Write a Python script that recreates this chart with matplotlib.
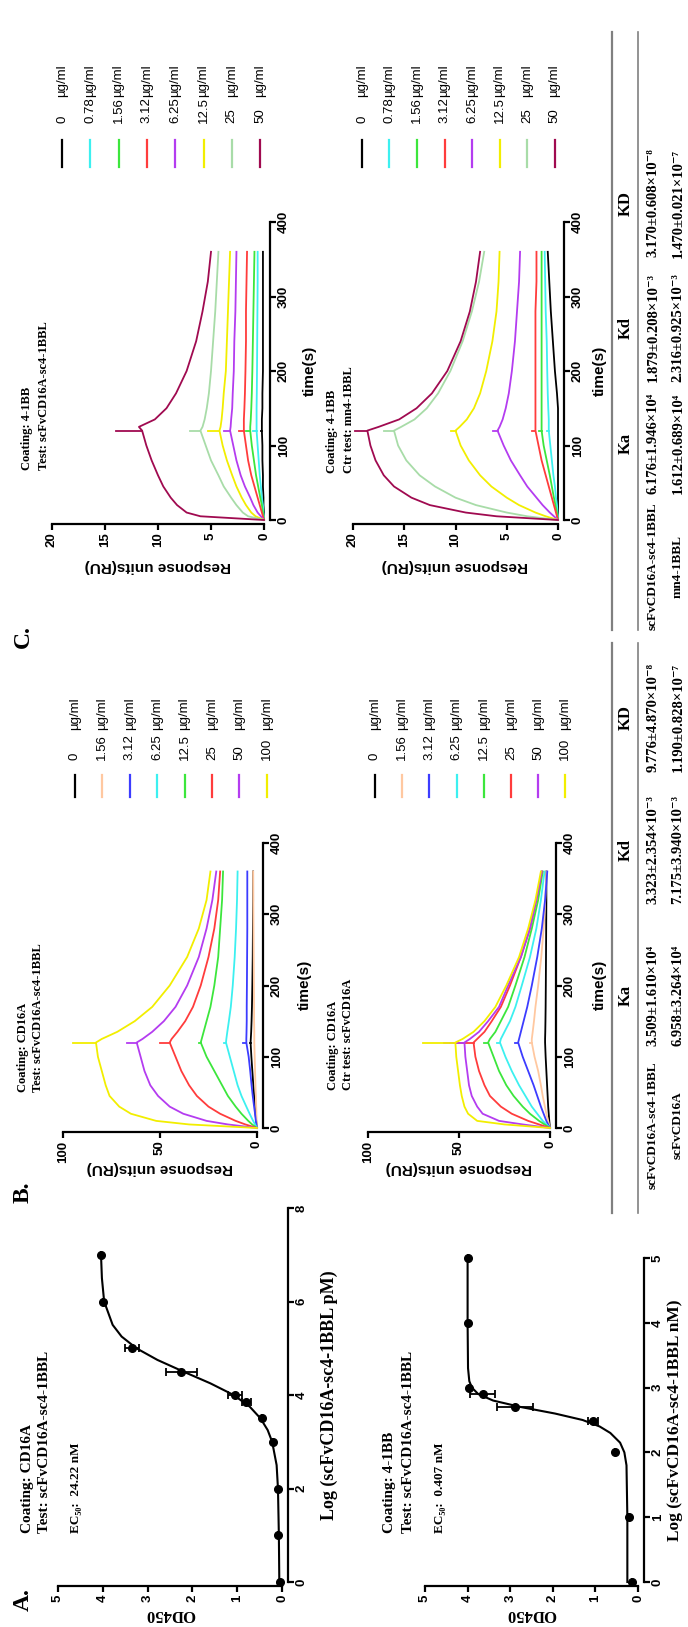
import matplotlib
matplotlib.use("Agg")
import matplotlib.pyplot as plt
from matplotlib.lines import Line2D

# ---------------- data ----------------
# panel A: ELISA binding curves (x = log conc, y = OD450)
A_TOP_LOG = [0, 1, 2, 3, 3.5, 3.85, 4, 4.5, 5, 6, 7]
A_TOP_OD = [0.05, 0.08, 0.08, 0.2, 0.45, 0.8, 1.05, 2.25, 3.35, 4.0, 4.05]
A_TOP_ERR = [0, 0, 0, 0, 0, 0.1, 0.15, 0.35, 0.15, 0, 0]
A_TOP_FIT_LOG = [0, 1, 2, 2.5, 3, 3.25, 3.5, 3.75, 4, 4.25, 4.5, 4.75, 5, 5.25, 5.5, 6, 6.5, 7]
A_TOP_FIT_OD = [0.06, 0.07, 0.09, 0.12, 0.22, 0.32, 0.48, 0.72, 1.08, 1.6, 2.2, 2.78, 3.25,
                3.58, 3.78, 3.97, 4.02, 4.04]

A_BOT_LOG = [0, 1, 2, 2.48, 2.7, 2.9, 3, 4, 5]
A_BOT_OD = [0.15, 0.2, 0.55, 1.05, 2.88, 3.65, 3.97, 4.0, 4.0]
A_BOT_ERR = [0, 0, 0, 0.12, 0.42, 0.3, 0, 0, 0]
A_BOT_FIT_LOG = [0, 1, 1.8, 2.0, 2.15, 2.3, 2.4, 2.5, 2.6, 2.7, 2.8, 2.9, 3.0, 3.1, 3.3, 4, 5]
A_BOT_FIT_OD = [0.25, 0.25, 0.27, 0.32, 0.42, 0.65, 0.9, 1.3, 1.95, 2.75, 3.4, 3.75, 3.9,
                3.96, 3.99, 4.0, 4.0]

# SPR sensorgrams, time in s
T = [0, 5, 10, 20, 30, 45, 60, 80, 100, 120, 125, 135, 150, 170, 200, 240, 280, 320, 360]

B_LABELS = ["0", "1.56", "3.12", "6.25", "12.5", "25", "50", "100"]
B_COLORS = ["#000000", "#FFC8A0", "#3C3CFF", "#3CF0F0", "#3CE63C", "#FF3C3C", "#B43CF0", "#F2EE00"]
B_TOP = [
    [0, 0.2, 0.4, 0.8, 1.1, 1.5, 1.9, 2.4, 2.9, 3.3, 3.2, 3.0, 2.8, 2.6, 2.4, 2.2, 2.1, 2.0, 2.0],
    [0, 0.1, 0.2, 0.3, 0.4, 0.6, 0.8, 1.0, 1.2, 1.4, 1.4, 1.4, 1.5, 1.5, 1.6, 1.7, 1.8, 1.9, 2.0],
    [0, 0.3, 0.6, 1.0, 1.5, 2.2, 2.8, 3.5, 4.3, 5.5, 5.5, 5.4, 5.3, 5.3, 5.2, 5.1, 5.0, 5.0, 5.0],
    [0, 1, 2, 3.8, 5.5, 8, 10, 12, 14, 16, 15.8, 15.3, 14.5, 13.5, 12.5, 11.5, 10.8, 10.3, 10],
    [0, 2.5, 4.5, 8, 11, 15, 18, 22, 26, 29, 28.5, 27.5, 26, 24, 22, 20, 19, 18, 17.5],
    [0, 6, 11, 19, 25, 31, 35, 39, 42, 45, 44, 41, 37, 33, 29, 25, 22, 20, 19],
    [0, 15, 26, 38, 45, 51, 55, 58, 60, 62, 59, 54, 48, 42, 36, 30, 26, 23, 21],
    [0, 35, 52, 65, 71, 76, 78, 80, 82, 83, 80, 72, 63, 54, 45, 36, 30, 26, 24],
]
B_TOP_SPIKE = [3.5, 1.5, 7, 17, 30, 50, 67, 95]
B_BOT = [
    [0, 0.2, 0.4, 0.7, 1, 1.3, 1.6, 2, 2.4, 2.7, 2.7, 2.6, 2.5, 2.4, 2.3, 2.2, 2.1, 2, 2],
    [0, 0.5, 1, 2, 2.8, 4, 5, 6.5, 8.5, 10, 10, 9.5, 8.8, 8, 6.5, 4.8, 3.5, 2.6, 2],
    [0, 1, 2, 3.5, 5, 7, 9, 12, 15, 17.5, 17, 16, 14.5, 12.5, 10, 7, 4.5, 2.7, 1.5],
    [0, 2, 4, 7, 10, 13.5, 17, 21, 24.5, 27.5, 27, 25, 22, 19, 15.5, 11, 7.5, 5, 3],
    [0, 3, 6, 11, 15, 20, 24, 28, 31, 34, 33, 30, 27, 23, 19, 14, 10, 6.5, 4],
    [0, 6, 12, 21, 27, 33, 36, 39, 41, 42, 40, 36, 32, 27, 22, 16, 11, 7.5, 4.5],
    [0, 15, 28, 37, 40, 43, 44.5, 45.5, 46.5, 47, 44, 39, 34, 28, 23, 16, 11, 7.5, 4.5],
    [0, 25, 40, 45, 47, 48.5, 49.5, 50.5, 51.5, 52, 48, 42, 36, 30, 24, 17, 12, 8, 5],
]
B_BOT_SPIKE = [3, 11, 19, 29, 36, 55, 58, 70]

C_LABELS = ["0", "0.78", "1.56", "3.12", "6.25", "12.5", "25", "50"]
C_COLORS = ["#000000", "#3CF0F0", "#3CE63C", "#FF3C3C", "#B43CF0", "#F2EE00", "#A8DCA8", "#A00A50"]
C_TOP = [
    [0, 0, 0, 0.05, 0.05, 0.1, 0.1, 0.15, 0.15, 0.2, 0.2, 0.2, 0.15, 0.15, 0.1, 0.1, 0.1, 0.1, 0.1],
    [0, 0, 0.05, 0.1, 0.2, 0.3, 0.4, 0.5, 0.6, 0.7, 0.7, 0.7, 0.7, 0.68, 0.66, 0.64, 0.62, 0.6, 0.6],
    [0, 0.05, 0.1, 0.2, 0.35, 0.55, 0.75, 0.95, 1.15, 1.3, 1.3, 1.25, 1.2, 1.15, 1.1, 1.05, 1.0, 0.95, 0.9],
    [0, 0.1, 0.2, 0.4, 0.6, 0.9, 1.2, 1.5, 1.7, 1.9, 1.9, 1.9, 1.85, 1.8, 1.75, 1.7, 1.7, 1.65, 1.6],
    [0, 0.3, 0.6, 1.0, 1.3, 1.8, 2.2, 2.6, 2.9, 3.2, 3.15, 3.1, 3.0, 2.95, 2.85, 2.8, 2.7, 2.65, 2.6],
    [0, 0.8, 1.2, 1.7, 2.1, 2.6, 3.0, 3.5, 3.9, 4.2, 4.1, 4.0, 3.9, 3.8, 3.6, 3.5, 3.4, 3.3, 3.2],
    [0, 1.5, 2.0, 2.6, 3.1, 3.8, 4.3, 5.0, 5.5, 6.0, 5.8, 5.6, 5.4, 5.2, 5.0, 4.8, 4.6, 4.45, 4.3],
    [0, 6, 7.3, 8.2, 8.8, 9.5, 10, 10.6, 11.1, 11.5, 11.8, 10.3, 9.2, 8.3, 7.3, 6.4, 5.8, 5.3, 5.0],
]
C_TOP_SPIKE = [0.3, 1.0, 1.7, 2.4, 3.8, 5.3, 7.0, 14]
C_BOT = [
    [0, 0, 0, 0, 0, 0, 0, 0, 0, 0, 0, 0, 0, 0.1, 0.3, 0.5, 0.7, 0.85, 1.0],
    [0, 0, 0.05, 0.1, 0.2, 0.3, 0.45, 0.6, 0.75, 0.9, 0.9, 0.9, 0.95, 1.0, 1.05, 1.1, 1.2, 1.25, 1.3],
    [0, 0.05, 0.1, 0.25, 0.4, 0.6, 0.8, 1.1, 1.4, 1.6, 1.6, 1.6, 1.6, 1.6, 1.6, 1.6, 1.6, 1.6, 1.6],
    [0, 0.1, 0.2, 0.4, 0.6, 0.9, 1.2, 1.6, 1.9, 2.2, 2.2, 2.2, 2.2, 2.2, 2.2, 2.2, 2.2, 2.1, 2.1],
    [0, 0.4, 0.8, 1.5, 2.1, 3, 3.7, 4.6, 5.3, 5.9, 5.7, 5.4, 5.1, 4.8, 4.5, 4.2, 4.0, 3.8, 3.7],
    [0, 1.2, 2.2, 3.8, 5, 6.5, 7.6, 8.7, 9.5, 10, 9.6, 8.9, 8.2, 7.6, 7.0, 6.4, 6.0, 5.8, 5.7],
    [0, 3, 5, 8, 10, 12, 13.5, 14.8, 15.6, 16, 15.3, 14, 12.8, 11.7, 10.5, 9.3, 8.4, 7.7, 7.2],
    [0, 6, 9, 12.5, 14.3, 16, 17, 17.8, 18.3, 18.6, 17.5, 15.5, 13.8, 12.3, 10.8, 9.5, 8.6, 8.0, 7.6],
]
C_BOT_SPIKE = [0, 1.1, 1.9, 2.5, 6.3, 10.4, 17, 19.8]

TABLE_HEAD = ["Ka", "Kd", "KD"]
B_ROWS = ["scFvCD16A-sc4-1BBL", "scFvCD16A"]
B_TABLE = [["3.509±1.610×10⁴", "3.323±2.354×10⁻³", "9.776±4.870×10⁻⁸"],
           ["6.958±3.264×10⁴", "7.175±3.940×10⁻³", "1.190±0.828×10⁻⁷"]]
C_ROWS = ["scFvCD16A-sc4-1BBL", "mn4-1BBL"]
C_TABLE = [["6.176±1.946×10⁴", "1.879±0.208×10⁻³", "3.170±0.608×10⁻⁸"],
           ["1.612±0.689×10⁴", "2.316±0.925×10⁻³", "1.470±0.021×10⁻⁷"]]

# ---------------- figure ----------------
W, H = 688, 1627
fig = plt.figure(figsize=(W / 100, H / 100), dpi=100)
SANS = ["Liberation Sans", "DejaVu Sans"]
SERIF = ["Liberation Serif", "DejaVu Serif"]


def box(x0, x1, ytop, ybot):
    # axes placed in pixel coords of the (rotated) page
    return fig.add_axes([x0 / W, 1 - ybot / H, (x1 - x0) / W, (ybot - ytop) / H])


def put(x, y, s, rot=90, size=9, family=SANS, weight="bold", ha="center", va="center", color="black"):
    fig.text(x / W, 1 - y / H, s, rotation=rot, fontsize=size, family=family,
             weight=weight, ha=ha, va=va, color=color)


def vline(x, y0, y1, color, lw=1.5):
    fig.add_artist(Line2D([x / W, x / W], [1 - y0 / H, 1 - y1 / H], transform=fig.transFigure,
                          color=color, lw=lw))


def style(ax, xlim, ylim, xticks, yticks):
    ax.set_xlim(*xlim)
    ax.set_ylim(*ylim)
    ax.patch.set_visible(False)
    for s in ["top", "left"]:
        ax.spines[s].set_visible(False)
    for s in ["bottom", "right"]:
        ax.spines[s].set_linewidth(1.6)
    ax.spines["bottom"].set_position(("outward", 3))
    ax.spines["right"].set_position(("outward", 4))
    ax.yaxis.tick_right()
    ax.set_xticks(xticks)
    ax.set_xticklabels([str(t) for t in xticks], rotation=90, fontsize=9.5, fontweight="bold", family=SANS)
    ax.set_yticks(yticks)
    ax.set_yticklabels([str(t) for t in yticks], rotation=90, fontsize=9.5, fontweight="bold",
                       family=SANS, va="center")
    ax.tick_params(direction="out", length=4, width=1.6, pad=2)


def elisa(ax, logs, ods, errs, fit_log, fit_od):
    ax.plot(fit_od, fit_log, color="black", lw=1.5, clip_on=False)
    ax.errorbar(ods, logs, xerr=errs, fmt="o", color="black", ms=5.5, capsize=3, elinewidth=1.3,
                capthick=1.3, clip_on=False)


def spr(ax, curves, spikes, colors):
    for ru, sp, c in zip(curves, spikes, colors):
        ax.plot(ru, T, color=c, lw=1.3, clip_on=False)
        ax.plot([ru[9], sp], [120, 120], color=c, lw=1.3, clip_on=False)


def legend(xs, labels, colors, y_num, y_unit, y_m0, y_m1):
    for x, lab, c in zip(xs, labels, colors):
        vline(x, y_m0, y_m1, c, lw=1.6)
        put(x, y_num, lab, size=9.5, weight="normal", va="bottom")
        put(x, y_unit, "µg/ml", size=9.5, weight="normal", va="bottom")


# ---- panel A ----
ax = box(58, 282, 1208, 1582)
style(ax, (5, 0), (0, 8), [0, 1, 2, 3, 4, 5], [0, 2, 4, 6, 8])
elisa(ax, A_TOP_LOG, A_TOP_OD, A_TOP_ERR, A_TOP_FIT_LOG, A_TOP_FIT_OD)
put(170, 1614, "OD450", rot=180, size=12, family=SERIF)
put(329, 1395, "Log (scFvCD16A-sc4-1BBL pM)", size=13, family=SERIF)
put(27, 1533, "Coating: CD16A", size=11, family=SERIF, va="bottom")
put(45, 1533, "Test: scFvCD16A-sc4-1BBL", size=11, family=SERIF, va="bottom")
put(76, 1533, "EC₅₀:  24.22 nM", size=9.5, family=SERIF, va="bottom")

ax = box(425, 638, 1258, 1582)
style(ax, (5, 0), (0, 5), [0, 1, 2, 3, 4, 5], [0, 1, 2, 3, 4, 5])
elisa(ax, A_BOT_LOG, A_BOT_OD, A_BOT_ERR, A_BOT_FIT_LOG, A_BOT_FIT_OD)
put(531, 1614, "OD450", rot=180, size=12, family=SERIF)
put(675, 1420, "Log (scFvCD16A-sc4-1BBL nM)", size=12.5, family=SERIF)
put(390, 1533, "Coating: 4-1BB", size=11, family=SERIF, va="bottom")
put(408, 1533, "Test: scFvCD16A-sc4-1BBL", size=11, family=SERIF, va="bottom")
put(440, 1533, "EC₅₀:  0.407 nM", size=9.5, family=SERIF, va="bottom")

put(23, 1600, "A.", size=17, family=SERIF)

# ---- panel B ----
TB0, TB1 = 1128, 843
ax = box(63, 257, TB1, TB0)
style(ax, (100, 0), (0, 400), [0, 50, 100], [0, 100, 200, 300, 400])
spr(ax, B_TOP, B_TOP_SPIKE, B_COLORS)
put(160, 1168, "Response units(RU)", rot=180, size=11)
put(305, 985, "time(s)", size=11)
put(23, 1092, "Coating: CD16A", size=9, family=SERIF, va="bottom")
put(38, 1092, "Test: scFvCD16A-sc4-1BBL", size=9, family=SERIF, va="bottom")
legend([75 + 27.4 * i for i in range(8)], B_LABELS, B_COLORS, 760, 730, 775, 797)

ax = box(368, 550, TB1, TB0)
style(ax, (100, 0), (0, 400), [0, 50, 100], [0, 100, 200, 300, 400])
spr(ax, B_BOT, B_BOT_SPIKE, B_COLORS)
put(459, 1168, "Response units(RU)", rot=180, size=11)
put(600, 985, "time(s)", size=11)
put(333, 1090, "Coating: CD16A", size=9, family=SERIF, va="bottom")
put(348, 1090, "Ctr test: scFvCD16A", size=9, family=SERIF, va="bottom")
legend([375 + 27.2 * i for i in range(8)], B_LABELS, B_COLORS, 760, 730, 775, 797)

put(23, 1192, "B.", size=17, family=SERIF)

# ---- panel C ----
TC0, TC1 = 520, 222
ax = box(52, 264, TC1, TC0)
style(ax, (20, 0), (0, 400), [0, 5, 10, 15, 20], [0, 100, 200, 300, 400])
spr(ax, C_TOP, C_TOP_SPIKE, C_COLORS)
put(158, 566, "Response units(RU)", rot=180, size=11)
put(310, 371, "time(s)", size=11)
put(27, 470, "Coating: 4-1BB", size=9, family=SERIF, va="bottom")
put(44, 470, "Test: scFvCD16A-sc4-1BBL", size=9, family=SERIF, va="bottom")
legend([62 + 28.3 * i for i in range(8)], C_LABELS, C_COLORS, 123, 97, 140, 167)

ax = box(353, 558, TC1, TC0)
style(ax, (20, 0), (0, 400), [0, 5, 10, 15, 20], [0, 100, 200, 300, 400])
spr(ax, C_BOT, C_BOT_SPIKE, C_COLORS)
put(455, 566, "Response units(RU)", rot=180, size=11)
put(600, 371, "time(s)", size=11)
put(332, 473, "Coating: 4-1BB", size=9, family=SERIF, va="bottom")
put(349, 473, "Ctr test: mn4-1BBL", size=9, family=SERIF, va="bottom")
legend([362 + 27.5 * i for i in range(8)], C_LABELS, C_COLORS, 123, 97, 140, 167)

put(23, 637, "C.", size=17, family=SERIF)


# ---- kinetics tables ----
def table(y0, y1, rows, vals, ys):
    vline(612, y0, y1, "#808080", lw=1.6)
    vline(638, y0, y1, "#808080", lw=1.2)
    for h, y in zip(TABLE_HEAD, ys[1:]):
        put(626, y, h, size=12, family=SERIF)
    for r, (name, row) in enumerate(zip(rows, vals)):
        x = 653 + 25 * r
        put(x, ys[0], name, size=9.5, family=SERIF)
        for v, y in zip(row, ys[1:]):
            put(x, y, v, size=10.5, family=SERIF)


table(643, 1213, B_ROWS, B_TABLE, [1125, 995, 850, 718])
table(32, 630, C_ROWS, C_TABLE, [566, 443, 328, 203])

fig.savefig("out.png", dpi=100)
